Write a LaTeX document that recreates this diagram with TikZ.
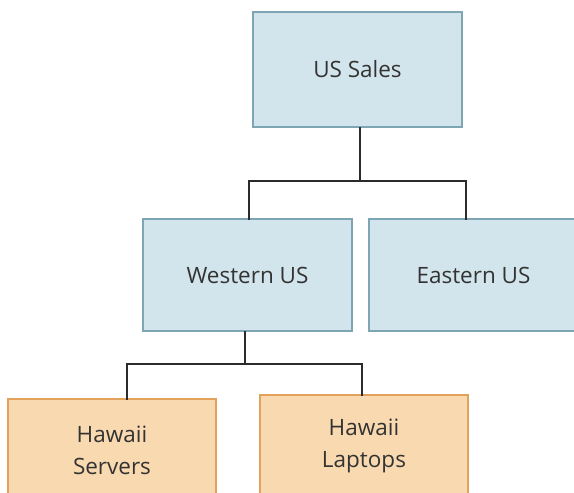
\documentclass[tikz,border=0pt]{standalone}
\usepackage{fontspec}
\setmainfont{Open Sans}
\definecolor{bluefill}{HTML}{D3E5EC}
\definecolor{blueline}{HTML}{7DA5B3}
\definecolor{orfill}{HTML}{F9D9AF}
\definecolor{orline}{HTML}{E2A25C}
\definecolor{txt}{HTML}{333333}
\definecolor{conncol}{HTML}{2B2B2B}
\begin{document}
\begin{tikzpicture}[x=1pt,y=-1pt,
  lbl/.style={inner sep=0pt,text=txt,font=\fontsize{22.5}{32}\selectfont,align=center},
  bluebox/.style={lbl,draw=blueline,fill=bluefill,line width=1.5pt,minimum width=209pt,minimum height=112pt},
  orbox/.style={lbl,draw=orline,fill=orfill,line width=1.5pt,minimum width=208pt,minimum height=102pt},
  conn/.style={draw=conncol,line width=2.5pt,line cap=rect}]
\useasboundingbox (0,0) rectangle (574,493);
\clip (0,0) rectangle (574,493);
\node[bluebox,minimum height=115pt] (ussales) at (357.5,69.5) {US Sales};
\node[bluebox] (western) at (247.5,275) {Western US};
\node[bluebox,minimum width=291pt] (eastern) at (514.5,275) {};
\node[lbl] (easternlabel) at (473.5,275) {Eastern US};
\node[orbox] (servers) at (112,450) {Hawaii\\Servers};
\node[orbox] (laptops) at (364,446) {Hawaii\\Laptops};
\draw[conn] ([xshift=2.5pt]ussales.south) -- ++(0,53) -| ([xshift=-48.5pt]eastern.north);
\draw[conn] ([xshift=2.5pt]ussales.south) -- ++(0,53) -| ([xshift=1.5pt]western.north);
\draw[conn] ([xshift=-2.5pt]western.south) -- ++(0,32) -| ([xshift=15pt]servers.north);
\draw[conn] ([xshift=-2.5pt]western.south) -- ++(0,32) -| ([xshift=-2pt]laptops.north);
\end{tikzpicture}
\end{document}
